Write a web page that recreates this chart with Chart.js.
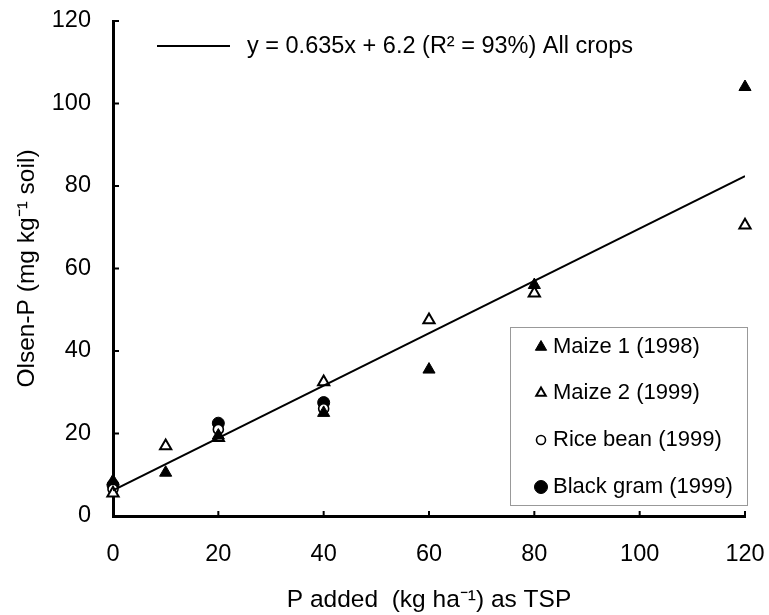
<!DOCTYPE html>
<html>
<head>
<meta charset="utf-8">
<script src="https://cdn.jsdelivr.net/npm/chart.js@4/dist/chart.umd.min.js"></script>
<style>
  html, body { margin: 0; padding: 0; background: #fff; }
  #wrap { position: relative; width: 769px; height: 615px; }
</style>
</head>
<body>
<div id="wrap"><canvas id="olsen"></canvas></div>
<script>
// values
const pAdded    = [0, 10, 20, 40, 60, 80, 120];
const maize1    = [8.5, 10.5, 19.5, 25, 35.5, 56, 104];
const maize2    = [5.5, 17, 19, 32.5, 47.5, 54, 70.5];
const legumeX   = [0, 20, 40];
const riceBean  = [6.5, 21, 26];
const blackGram = [7.5, 22.5, 27.5];
const fitX      = [0, 120];
const fitY      = [6.2, 82.4];
const axisTicks = [0, 20, 40, 60, 80, 100, 120];

const fitLabel = 'y = 0.635x + 6.2 (R\u00B2 = 93%) All crops';
const seriesNames = ['Maize 1 (1998)', 'Maize 2 (1999)', 'Rice bean (1999)', 'Black gram (1999)'];
const FONT = "'Liberation Sans', Arial, sans-serif";

function pts(xs, ys) {
    return xs.map((x, i) => ({ x: x, y: ys[i] }));
}

const scatterSets = [
    { label: seriesNames[0], data: pts(pAdded, maize1), pointStyle: 'triangle', pointRadius: 7,
      backgroundColor: '#000', borderColor: '#000', borderWidth: 1, clip: false },
    { label: seriesNames[1], data: pts(pAdded, maize2), pointStyle: 'triangle', pointRadius: 6.5,
      backgroundColor: '#fff', borderColor: '#000', borderWidth: 2, clip: false },
    { label: seriesNames[2], data: pts(legumeX, riceBean), pointStyle: 'circle', pointRadius: 5,
      backgroundColor: '#fff', borderColor: '#000', borderWidth: 1.6, clip: false },
    { label: seriesNames[3], data: pts(legumeX, blackGram), pointStyle: 'circle', pointRadius: 6,
      backgroundColor: '#000', borderColor: '#000', borderWidth: 1, clip: false }
];

// inward tick marks + the two legends
const decorations = {
    id: 'decorations',
    afterDraw(chart) {
        const ctx = chart.ctx;
        const xs = chart.scales.x, ys = chart.scales.y;
        const area = chart.chartArea;
        ctx.save();
        ctx.strokeStyle = '#000';
        ctx.lineWidth = 2;
        axisTicks.forEach(v => {
            const px = xs.getPixelForValue(v);
            ctx.beginPath(); ctx.moveTo(px, area.bottom); ctx.lineTo(px, area.bottom - 5); ctx.stroke();
            const py = ys.getPixelForValue(v);
            ctx.beginPath(); ctx.moveTo(area.left, py); ctx.lineTo(area.left + 6, py); ctx.stroke();
        });

        // regression legend at the top
        ctx.lineWidth = 2;
        ctx.beginPath(); ctx.moveTo(157, 46); ctx.lineTo(230, 46); ctx.stroke();
        ctx.fillStyle = '#000';
        ctx.font = '23.5px ' + FONT;
        ctx.textBaseline = 'middle';
        ctx.textAlign = 'left';
        ctx.fillText(fitLabel, 247, 47);

        // series legend box
        ctx.strokeStyle = '#999';
        ctx.lineWidth = 1;
        ctx.strokeRect(510.5, 327.5, 237, 178);
        ctx.font = '22px ' + FONT;
        const rows = [347, 393, 440, 487];
        scatterSets.forEach((ds, i) => {
            ctx.fillStyle = ds.backgroundColor;
            ctx.strokeStyle = ds.borderColor;
            ctx.lineWidth = ds.borderWidth;
            Chart.helpers.drawPoint(ctx, {
                pointStyle: ds.pointStyle,
                radius: i === 1 ? 5.5 : (i === 2 ? 4.5 : 6.5),
                rotation: 0,
                borderWidth: ds.borderWidth
            }, 541, rows[i]);
            ctx.fillStyle = '#000';
            ctx.fillText(ds.label, 553, rows[i]);
        });
        ctx.restore();
    }
};

new Chart(document.getElementById('olsen'), {
    type: 'scatter',
    data: {
        datasets: [
            { type: 'line', label: 'fit', data: pts(fitX, fitY), borderColor: '#000',
              borderWidth: 2, pointRadius: 0, fill: false, tension: 0 }
        ].concat(scatterSets)
    },
    options: {
        responsive: true,
        maintainAspectRatio: false,
        animation: false,
        devicePixelRatio: 1,
        layout: { padding: { left: 0, right: 24, top: 21, bottom: 0 } },
        plugins: { legend: { display: false }, tooltip: { enabled: false } },
        scales: {
            x: {
                type: 'linear', min: 0, max: 120,
                afterFit(s) { s.height = 99; s.paddingLeft = 0; s.paddingRight = 0; },
                afterBuildTicks(s) { s.ticks = axisTicks.map(v => ({ value: v })); },
                grid: { display: false },
                border: { display: true, color: '#000', width: 3 },
                ticks: { color: '#000', font: { family: FONT, size: 23.5 }, padding: 16, maxRotation: 0 },
                title: { display: true, text: 'P added  (kg ha\u207B\u00B9) as TSP', color: '#000',
                         font: { family: FONT, size: 24.5 }, padding: { top: 0, bottom: 0 } }
            },
            y: {
                type: 'linear', min: 0, max: 120,
                afterFit(s) { s.width = 113; s.paddingTop = 0; s.paddingBottom = 0; },
                afterBuildTicks(s) { s.ticks = axisTicks.map(v => ({ value: v })); },
                grid: { display: false },
                border: { display: true, color: '#000', width: 3 },
                ticks: { color: '#000', font: { family: FONT, size: 23.5 }, padding: 14 },
                title: { display: true, text: 'Olsen-P (mg kg\u207B\u00B9 soil)', color: '#000',
                         font: { family: FONT, size: 24.5 }, padding: { top: 13, bottom: 0 } }
            }
        }
    },
    plugins: [decorations]
});
</script>
</body>
</html>
